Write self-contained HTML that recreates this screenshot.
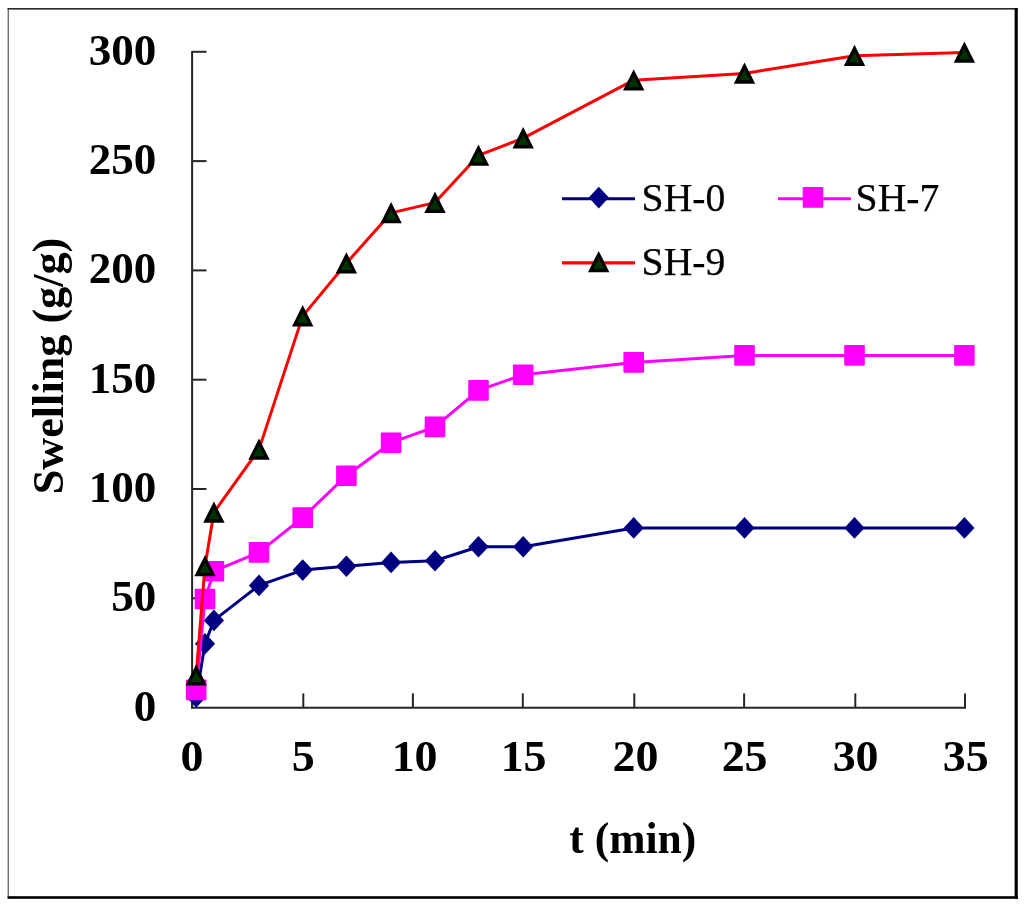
<!DOCTYPE html>
<html><head><meta charset="utf-8"><title>Swelling kinetics</title>
<style>
html,body{margin:0;padding:0;background:#fff;}
body{width:1024px;height:906px;overflow:hidden;}
svg{display:block;}
text{font-family:"Liberation Serif","Times New Roman",serif;fill:#000;}
.b{font-weight:bold;font-size:44.2px;}
.l{font-size:39.7px;stroke:#000;stroke-width:0.25px;}
</style></head><body>
<svg width="1024" height="906" viewBox="0 0 1024 906">
<defs><filter id="soft" x="0" y="0" width="1024" height="906" filterUnits="userSpaceOnUse"><feGaussianBlur stdDeviation="0.7"/></filter></defs>
<rect x="0" y="0" width="1024" height="906" fill="#fff"/>
<g filter="url(#soft)">

<rect x="7.6" y="8" width="1.4" height="890" fill="#6e6e6e"/>
<rect x="7.6" y="8" width="1010" height="1.6" fill="#2a2a2a"/>
<rect x="1014.6" y="8" width="3.2" height="891" fill="#000"/>
<rect x="7.6" y="896.2" width="1010" height="2.6" fill="#000"/>
<g stroke="#262626" stroke-width="2" fill="none">
<line x1="192.1" y1="50.9" x2="192.1" y2="708.5"/>
<line x1="191.1" y1="707.8" x2="966" y2="707.8"/>
<line x1="192" y1="598.3" x2="206.5" y2="598.3"/>
<line x1="192" y1="489.0" x2="206.5" y2="489.0"/>
<line x1="192" y1="379.7" x2="206.5" y2="379.7"/>
<line x1="192" y1="270.4" x2="206.5" y2="270.4"/>
<line x1="192" y1="161.1" x2="206.5" y2="161.1"/>
<line x1="192" y1="51.8" x2="206.5" y2="51.8"/>
<line x1="192.1" y1="693.4" x2="192.1" y2="707.8"/>
<line x1="303.3" y1="693.4" x2="303.3" y2="707.8"/>
<line x1="412.9" y1="693.4" x2="412.9" y2="707.8"/>
<line x1="522.8" y1="693.4" x2="522.8" y2="707.8"/>
<line x1="634.3" y1="693.4" x2="634.3" y2="707.8"/>
<line x1="744.1" y1="693.4" x2="744.1" y2="707.8"/>
<line x1="855.3" y1="693.4" x2="855.3" y2="707.8"/>
<line x1="965.0" y1="693.4" x2="965.0" y2="707.8"/>
</g>
<text class="b" text-anchor="end" transform="translate(156.3,720.5) scale(1.02,1)">0</text>
<text class="b" text-anchor="end" transform="translate(156.3,611.2) scale(1.02,1)">50</text>
<text class="b" text-anchor="end" transform="translate(156.3,501.9) scale(1.02,1)">100</text>
<text class="b" text-anchor="end" transform="translate(156.3,392.6) scale(1.02,1)">150</text>
<text class="b" text-anchor="end" transform="translate(156.3,283.3) scale(1.02,1)">200</text>
<text class="b" text-anchor="end" transform="translate(156.3,174.0) scale(1.02,1)">250</text>
<text class="b" text-anchor="end" transform="translate(156.3,64.7) scale(1.02,1)">300</text>
<text class="b" text-anchor="middle" transform="translate(192.1,771.2) scale(1.04,1)">0</text>
<text class="b" text-anchor="middle" transform="translate(303.2,771.2) scale(1.04,1)">5</text>
<text class="b" text-anchor="middle" transform="translate(414.6,771.2) scale(1.04,1)">10</text>
<text class="b" text-anchor="middle" transform="translate(523.6,771.2) scale(1.04,1)">15</text>
<text class="b" text-anchor="middle" transform="translate(635.4,771.2) scale(1.04,1)">20</text>
<text class="b" text-anchor="middle" transform="translate(744.6,771.2) scale(1.04,1)">25</text>
<text class="b" text-anchor="middle" transform="translate(855.6,771.2) scale(1.04,1)">30</text>
<text class="b" text-anchor="middle" transform="translate(965.8,771.2) scale(1.04,1)">35</text>
<text class="b" text-anchor="middle" transform="translate(62.6,366) rotate(-90)">Swelling (g/g)</text>
<text class="b" style="font-size:43.5px" text-anchor="middle" x="632.8" y="853.1">t (min)</text>
<polyline fill="none" stroke="#000080" stroke-width="3.0" stroke-linejoin="round" points="196.2,696.9 205.0,643.8 213.9,620.4 259.0,585.4 302.7,570.1 346.4,566.2 391.1,562.4 435.0,560.7 478.5,546.7 523.2,546.7 633.7,527.9 744.5,527.9 854.5,527.9 964.4,527.9"/>
<polygon fill="#000080" points="186.1,696.9 196.2,686.1 206.3,696.9 196.2,707.7"/>
<polygon fill="#000080" points="194.9,643.8 205.0,633.0 215.1,643.8 205.0,654.6"/>
<polygon fill="#000080" points="203.8,620.4 213.9,609.6 224.0,620.4 213.9,631.2"/>
<polygon fill="#000080" points="248.9,585.4 259.0,574.6 269.1,585.4 259.0,596.2"/>
<polygon fill="#000080" points="292.6,570.1 302.7,559.3 312.8,570.1 302.7,580.9"/>
<polygon fill="#000080" points="336.3,566.2 346.4,555.4 356.5,566.2 346.4,577.0"/>
<polygon fill="#000080" points="381.0,562.4 391.1,551.6 401.2,562.4 391.1,573.2"/>
<polygon fill="#000080" points="424.9,560.7 435.0,549.9 445.1,560.7 435.0,571.5"/>
<polygon fill="#000080" points="468.4,546.7 478.5,535.9 488.6,546.7 478.5,557.5"/>
<polygon fill="#000080" points="513.1,546.7 523.2,535.9 533.3,546.7 523.2,557.5"/>
<polygon fill="#000080" points="623.6,527.9 633.7,517.1 643.8,527.9 633.7,538.7"/>
<polygon fill="#000080" points="734.4,527.9 744.5,517.1 754.6,527.9 744.5,538.7"/>
<polygon fill="#000080" points="844.4,527.9 854.5,517.1 864.6,527.9 854.5,538.7"/>
<polygon fill="#000080" points="954.3,527.9 964.4,517.1 974.5,527.9 964.4,538.7"/>
<polyline fill="none" stroke="#ff00ff" stroke-width="3.0" stroke-linejoin="round" points="196.2,689.9 205.0,599.0 213.9,571.2 259.0,552.4 302.7,517.6 346.4,475.7 391.1,442.7 435.0,426.9 478.5,390.4 523.2,374.7 633.7,362.4 744.5,355.4 854.5,355.4 964.4,355.4"/>
<rect fill="#ff00ff" x="185.9" y="679.6" width="20.6" height="20.6" rx="1"/>
<rect fill="#ff00ff" x="194.7" y="588.7" width="20.6" height="20.6" rx="1"/>
<rect fill="#ff00ff" x="203.6" y="560.9" width="20.6" height="20.6" rx="1"/>
<rect fill="#ff00ff" x="248.7" y="542.1" width="20.6" height="20.6" rx="1"/>
<rect fill="#ff00ff" x="292.4" y="507.3" width="20.6" height="20.6" rx="1"/>
<rect fill="#ff00ff" x="336.1" y="465.4" width="20.6" height="20.6" rx="1"/>
<rect fill="#ff00ff" x="380.8" y="432.4" width="20.6" height="20.6" rx="1"/>
<rect fill="#ff00ff" x="424.7" y="416.6" width="20.6" height="20.6" rx="1"/>
<rect fill="#ff00ff" x="468.2" y="380.1" width="20.6" height="20.6" rx="1"/>
<rect fill="#ff00ff" x="512.9" y="364.4" width="20.6" height="20.6" rx="1"/>
<rect fill="#ff00ff" x="623.4" y="352.1" width="20.6" height="20.6" rx="1"/>
<rect fill="#ff00ff" x="734.2" y="345.1" width="20.6" height="20.6" rx="1"/>
<rect fill="#ff00ff" x="844.2" y="345.1" width="20.6" height="20.6" rx="1"/>
<rect fill="#ff00ff" x="954.1" y="345.1" width="20.6" height="20.6" rx="1"/>
<polyline fill="none" stroke="#ff0000" stroke-width="3.0" stroke-linejoin="round" points="196.2,675.2 205.0,565.9 213.9,512.4 259.0,449.4 302.7,316.1 346.4,263.2 391.1,212.9 435.0,202.6 478.5,155.4 523.2,138.1 633.7,80.2 744.5,73.4 854.5,55.7 964.4,52.5"/>
<polygon fill="#000" points="185.5,685.5 206.9,685.5 196.2,664.2"/><polygon fill="#003300" points="190.5,682.1 201.9,682.1 196.2,671.6"/>
<polygon fill="#000" points="194.3,576.2 215.7,576.2 205.0,554.9"/><polygon fill="#003300" points="199.3,572.8 210.7,572.8 205.0,562.3"/>
<polygon fill="#000" points="203.2,522.7 224.6,522.7 213.9,501.4"/><polygon fill="#003300" points="208.2,519.3 219.6,519.3 213.9,508.8"/>
<polygon fill="#000" points="248.3,459.7 269.7,459.7 259.0,438.4"/><polygon fill="#003300" points="253.3,456.3 264.7,456.3 259.0,445.8"/>
<polygon fill="#000" points="292.0,326.4 313.4,326.4 302.7,305.1"/><polygon fill="#003300" points="297.0,323.0 308.4,323.0 302.7,312.5"/>
<polygon fill="#000" points="335.7,273.5 357.1,273.5 346.4,252.2"/><polygon fill="#003300" points="340.7,270.1 352.1,270.1 346.4,259.6"/>
<polygon fill="#000" points="380.4,223.2 401.8,223.2 391.1,201.9"/><polygon fill="#003300" points="385.4,219.8 396.8,219.8 391.1,209.3"/>
<polygon fill="#000" points="424.3,212.9 445.7,212.9 435.0,191.6"/><polygon fill="#003300" points="429.3,209.5 440.7,209.5 435.0,199.0"/>
<polygon fill="#000" points="467.8,165.7 489.2,165.7 478.5,144.4"/><polygon fill="#003300" points="472.8,162.3 484.2,162.3 478.5,151.8"/>
<polygon fill="#000" points="512.5,148.4 533.9,148.4 523.2,127.1"/><polygon fill="#003300" points="517.5,145.0 528.9,145.0 523.2,134.5"/>
<polygon fill="#000" points="623.0,90.5 644.4,90.5 633.7,69.2"/><polygon fill="#003300" points="628.0,87.1 639.4,87.1 633.7,76.6"/>
<polygon fill="#000" points="733.8,83.7 755.2,83.7 744.5,62.4"/><polygon fill="#003300" points="738.8,80.3 750.2,80.3 744.5,69.8"/>
<polygon fill="#000" points="843.8,66.0 865.2,66.0 854.5,44.7"/><polygon fill="#003300" points="848.8,62.6 860.2,62.6 854.5,52.1"/>
<polygon fill="#000" points="953.7,62.8 975.1,62.8 964.4,41.5"/><polygon fill="#003300" points="958.7,59.4 970.1,59.4 964.4,48.9"/>
<line x1="562" y1="198.7" x2="635" y2="198.7" stroke="#000080" stroke-width="3.1"/>
<polygon fill="#000080" points="588.7,197.6 598.8,186.8 608.9,197.6 598.8,208.4"/>
<text class="l" x="641.6" y="210.8">SH-0</text>
<line x1="778" y1="198.7" x2="851" y2="198.7" stroke="#ff00ff" stroke-width="3.1"/>
<rect fill="#ff00ff" x="802.7" y="187.1" width="20.6" height="20.6" rx="1"/>
<text class="l" x="855.6" y="210.8">SH-7</text>
<line x1="562" y1="262.9" x2="635" y2="262.9" stroke="#ff0000" stroke-width="3.1"/>
<polygon fill="#000" points="588.0,272.2 609.4,272.2 598.7,250.9"/><polygon fill="#003300" points="593.0,268.8 604.4,268.8 598.7,258.3"/>
<text class="l" x="641.6" y="275.2">SH-9</text>
</g></svg></body></html>
